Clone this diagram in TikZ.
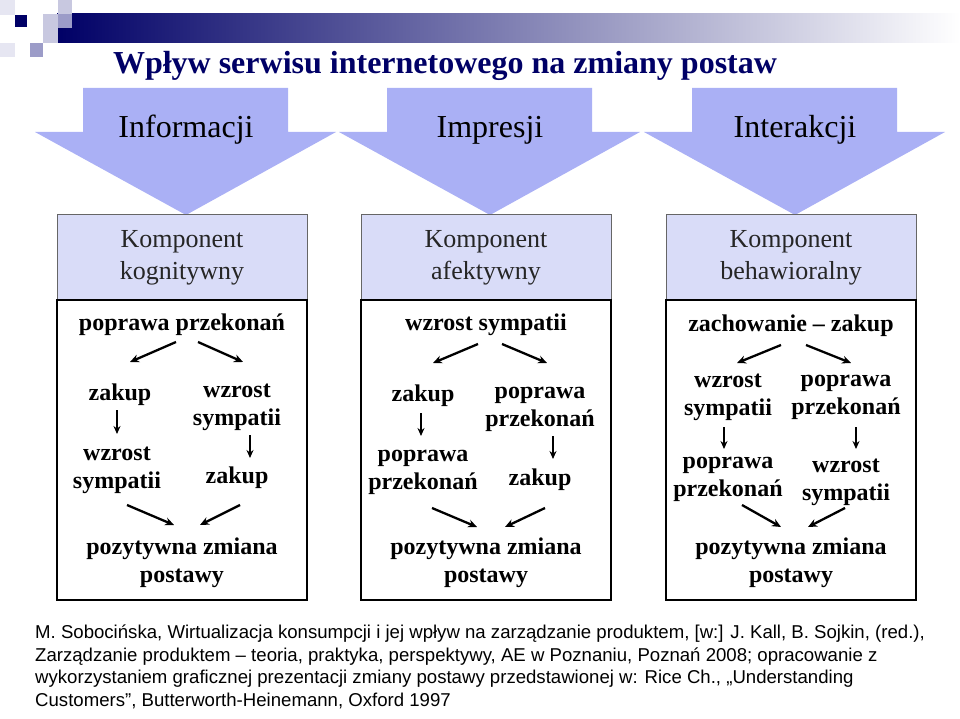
\documentclass[tikz,border=0pt]{standalone}
\usepackage{fontspec}
\setmainfont{Liberation Serif}
\newfontfamily\footfont{Liberation Sans}
\usetikzlibrary{arrows.meta}
\definecolor{navy}{HTML}{000066}
\definecolor{arr}{HTML}{AAB0F5}
\definecolor{hdr}{HTML}{D9DCF8}
\definecolor{sqA}{HTML}{E6E6F2}
\definecolor{sqB}{HTML}{C8C8E0}
\definecolor{sqC}{HTML}{9C9CC8}
\tikzset{
 body/.style={font=\fontsize{24}{28}\selectfont\bfseries, align=center, inner sep=0pt},
 hdrtxt/.style={font=\fontsize{26}{32}\selectfont, align=center, inner sep=0pt, text=black!85},
 arrtxt/.style={font=\fontsize{32}{34}\selectfont, inner sep=0pt},
 ar/.style={-{Stealth[length=9pt,width=8pt]}, line width=2.3pt},
 shortar/.style={-{Stealth[length=8pt,width=7pt]}, line width=1.6pt},
}
\begin{document}
\begin{tikzpicture}[x=1pt,y=-1pt]
\useasboundingbox (0,0) rectangle (960,719);
% decoration
\shade[left color=navy, right color=white] (57,14) rectangle (960,43);
\fill[sqA] (0,0) rectangle (15,15);
\fill[sqB] (58,0) rectangle (72,14);
\fill[sqB] (43,14) rectangle (58,28);
\fill[sqC] (58,14) rectangle (72,28);
\fill[sqB] (43,28) rectangle (58,43);
\fill[sqC] (30,43) rectangle (43,57);
\fill[sqA] (0,43) rectangle (15,57);
\fill[navy] (15,15) rectangle (27,27);
\node[font=\fontsize{32}{36}\selectfont\bfseries, text=navy, inner sep=0pt] (title) at (445,66) {Wpływ serwisu internetowego na zmiany postaw};
% big arrows
\foreach \c/\t/\n in {186/Informacji/a1, 490/Impresji/a2, 795/Interakcji/a3}{
 \fill[arr] (\c-103,88) -- (\c+102,88) -- (\c+102,132) -- (\c+150,132) -- (\c,215) -- (\c-151,132) -- (\c-103,132) -- cycle;
 \node[arrtxt] (\n) at (\c,130) {\t};
}
% boxes
\foreach \l/\t/\n in {57/{Komponent\\kognitywny}/h1, 361/{Komponent\\afektywny}/h2, 666/{Komponent\\behawioralny}/h3}{
 \filldraw[fill=hdr, draw=black!60, line width=1pt] (\l,215) rectangle (\l+250,300);
 \draw[line width=2pt] (\l,300) rectangle (\l+250,600);
 \node[hdrtxt] (\n) at (\l+125,258) {\t};
}
% column 1
\node[body] (c1t) at (182,325) {poprawa przekonań};
\node[body] (c1l1) at (120,395) {zakup};
\node[body] (c1l2) at (117,470) {wzrost\\sympatii};
\node[body] (c1r1) at (237,407) {wzrost\\sympatii};
\node[body] (c1r2) at (237,478) {zakup};
\node[body] (c1b) at (182,563) {pozytywna zmiana\\postawy};
\draw[ar] (176,342) -- (130,362);
\draw[ar] (198,342) -- (243,362);
\draw[shortar] (117,410) -- (117,434);
\draw[shortar] (250,435) -- (250,458);
\draw[ar] (127,505) -- (174,525);
\draw[ar] (240,505) -- (200,525);
% column 2
\node[body] (c2t) at (486,325) {wzrost sympatii};
\node[body] (c2l1) at (423,396) {zakup};
\node[body] (c2l2) at (423,472) {poprawa\\przekonań};
\node[body] (c2r1) at (540,409) {poprawa\\przekonań};
\node[body] (c2r2) at (540,480) {zakup};
\node[body] (c2b) at (486,563) {pozytywna zmiana\\postawy};
\draw[ar] (478,344) -- (433,363);
\draw[ar] (502,344) -- (547,363);
\draw[shortar] (421,413) -- (421,436);
\draw[shortar] (553,436) -- (553,459);
\draw[ar] (432,508) -- (477,527);
\draw[ar] (545,508) -- (505,527);
% column 3
\node[body] (c3t) at (791,326) {zachowanie -- zakup};
\node[body] (c3l1) at (728,397) {wzrost\\sympatii};
\node[body] (c3l2) at (728,479) {poprawa\\przekonań};
\node[body] (c3r1) at (846,397) {poprawa\\przekonań};
\node[body] (c3r2) at (846,482) {wzrost\\sympatii};
\node[body] (c3b) at (791,563) {pozytywna zmiana\\postawy};
\draw[ar] (781,345) -- (737,363);
\draw[ar] (806,345) -- (851,363);
\draw[shortar] (724,427) -- (724,449);
\draw[shortar] (856,427) -- (856,449);
\draw[ar] (742,505) -- (781,527);
\draw[ar] (845,508) -- (808,527);
% footnote
\node[anchor=north west, font=\footfont\fontsize{18.6}{22.5}\selectfont, align=left, inner sep=0pt] (ref) at (35,625) {M. Sobocińska, Wirtualizacja konsumpcji i jej wpływ na zarządzanie produktem, [w:] J. Kall, B. Sojkin, (red.),\\Zarządzanie produktem – teoria, praktyka, perspektywy, AE w Poznaniu, Poznań 2008; opracowanie z\\wykorzystaniem graficznej prezentacji zmiany postawy przedstawionej w: Rice Ch., „Understanding\\Customers”, Butterworth-Heinemann, Oxford 1997};
\end{tikzpicture}
\end{document}
